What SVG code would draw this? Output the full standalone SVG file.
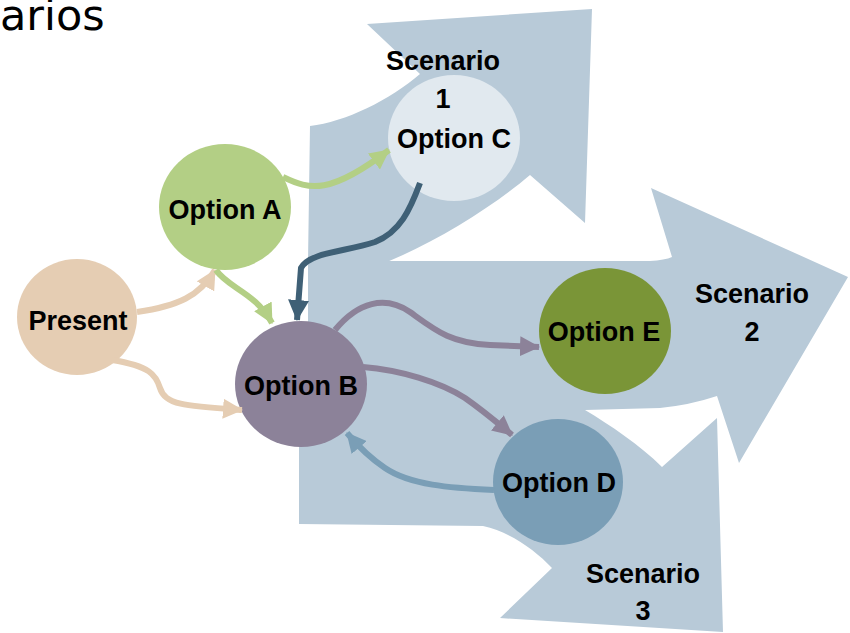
<svg xmlns="http://www.w3.org/2000/svg" width="850" height="633" viewBox="0 0 850 633">
  <style>
    .bg { fill: #B8CAD8; stroke: none; }
    .lbl { font-family: "Liberation Sans", Arial, sans-serif; font-weight: bold; font-size: 27px; fill: #000; text-anchor: middle; }
    .title { font-family: "DejaVu Sans", Verdana, sans-serif; font-size: 43px; fill: #000; }
    .conn { fill: none; stroke-width: 6; stroke-linecap: butt; stroke-linejoin: round; }
  </style>
  <defs>
    <marker id="ah-tan" markerUnits="userSpaceOnUse" markerWidth="20" markerHeight="20" viewBox="0 0 20 20" refX="19" refY="10" orient="auto"><path d="M0,0 L20,10 L0,20 Z" fill="#E5CDB3"/></marker>
    <marker id="ah-green" markerUnits="userSpaceOnUse" markerWidth="20" markerHeight="20" viewBox="0 0 20 20" refX="19" refY="10" orient="auto"><path d="M0,0 L20,10 L0,20 Z" fill="#B3CF85"/></marker>
    <marker id="ah-dark" markerUnits="userSpaceOnUse" markerWidth="21" markerHeight="21" viewBox="0 0 20 20" refX="19" refY="10" orient="auto"><path d="M0,0 L20,10 L0,20 Z" fill="#3F6076"/></marker>
    <marker id="ah-purple" markerUnits="userSpaceOnUse" markerWidth="20" markerHeight="20" viewBox="0 0 20 20" refX="19" refY="10" orient="auto"><path d="M0,0 L20,10 L0,20 Z" fill="#8C8299"/></marker>
    <marker id="ah-blue" markerUnits="userSpaceOnUse" markerWidth="20" markerHeight="20" viewBox="0 0 20 20" refX="19" refY="10" orient="auto"><path d="M0,0 L20,10 L0,20 Z" fill="#7A9EB6"/></marker>
  </defs>

  <text class="title" x="0" y="30">arios</text>

  <g id="scenario-shapes">
    <path id="scenario1-arrow" class="bg" d="M310,126 C345,122 390,100 420,74 L367,24 L592,9 L585,223 L530,175 C495,205 440,240 387,262 L308,262 Z"/>
    <path id="scenario2-arrow" class="bg" d="M308,261 L387,261 L650,261 Q665,260 672,257 L651,188 L848,277 L739,463 L717,396 Q690,405 660,408 L585,410 L308,410 Z"/>
    <path id="scenario3-arrow" class="bg" d="M299,400 L299,524 L483,526 C510,532 535,550 552,568 L500,618 L723,632 L717,418 L662,467 C640,445 610,425 585,410 L299,410 Z"/>
  </g>

  <g id="present">
    <ellipse cx="77" cy="317" rx="60" ry="58" fill="#E5CDB3"/>
    <text class="lbl" x="78" y="330">Present</text>
  </g>
  <g id="option-a">
    <ellipse cx="225" cy="207" rx="66" ry="63" fill="#B3CF85"/>
    <text class="lbl" x="225" y="219">Option A</text>
  </g>
  <g id="option-b">
    <ellipse cx="301" cy="384" rx="66" ry="63" fill="#8C8299"/>
    <text class="lbl" x="301" y="395">Option B</text>
  </g>
  <g id="option-c">
    <ellipse cx="454" cy="138" rx="66" ry="63" fill="#E1E9EF"/>
    <text class="lbl" x="454" y="148">Option C</text>
  </g>
  <g id="option-d">
    <ellipse cx="558" cy="482" rx="65" ry="63" fill="#7A9EB6"/>
    <text class="lbl" x="559" y="492">Option D</text>
  </g>
  <g id="option-e">
    <ellipse cx="605" cy="331" rx="66" ry="63" fill="#7A9537"/>
    <text class="lbl" x="604" y="341">Option E</text>
  </g>

  <g id="connectors">
    <path class="conn" stroke="#E5CDB3" marker-end="url(#ah-tan)" d="M137,312 C178,306 200,296 215,270"/>
    <path class="conn" stroke="#E5CDB3" marker-end="url(#ah-tan)" d="M112,360 C150,366 156,375 160,388 C165,405 185,406 242,410"/>
    <path class="conn" stroke="#B3CF85" marker-end="url(#ah-green)" d="M216,270 C228,288 255,292 272,323"/>
    <path class="conn" stroke="#B3CF85" marker-end="url(#ah-green)" d="M283,177 C310,190 330,195 389,150"/>
    <path class="conn" stroke="#3F6076" stroke-width="7" marker-end="url(#ah-dark)" d="M420,183 C410,210 400,232 375,242 C345,252 310,252 301,268 L297,320"/>
    <path class="conn" stroke="#8C8299" marker-end="url(#ah-purple)" d="M335,330 C358,302 385,295 410,312 C435,330 450,343 490,345 L539,347"/>
    <path class="conn" stroke="#8C8299" marker-end="url(#ah-purple)" d="M363,367 C400,370 440,382 465,398 C485,412 500,425 512,435"/>
    <path class="conn" stroke="#7A9EB6" marker-end="url(#ah-blue)" d="M494,490 C450,488 410,485 385,468 C370,458 358,446 347,433"/>
  </g>

  <g id="scenario1-label">
    <text class="lbl" x="443" y="70">Scenario</text>
    <text class="lbl" x="443" y="108">1</text>
  </g>
  <g id="scenario2-label">
    <text class="lbl" x="752" y="303">Scenario</text>
    <text class="lbl" x="752" y="341">2</text>
  </g>
  <g id="scenario3-label">
    <text class="lbl" x="643" y="583">Scenario</text>
    <text class="lbl" x="643" y="620">3</text>
  </g>
</svg>
